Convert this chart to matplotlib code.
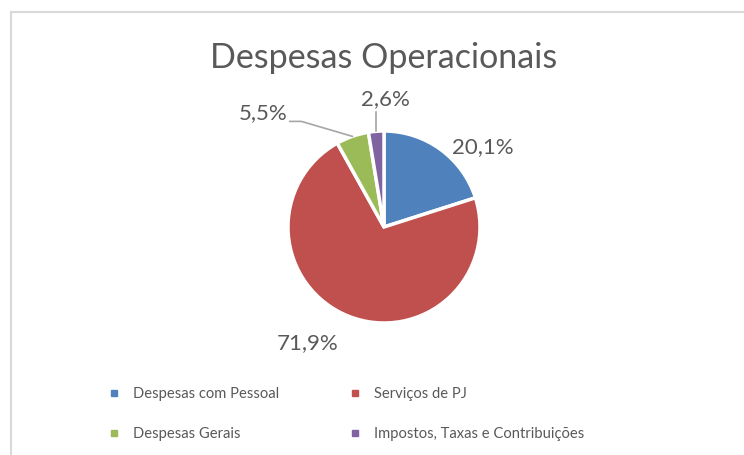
import matplotlib
matplotlib.use("Agg")
import matplotlib.pyplot as plt
from matplotlib.lines import Line2D
import numpy as np

# data
categories = ["Despesas com Pessoal", "Serviços de PJ", "Despesas Gerais", "Impostos, Taxas e Contribuições"]
values = [20.1, 71.9, 5.5, 2.6]
colors = ["#4F81BD", "#C0504D", "#9BBB59", "#8064A2"]

plt.rcParams['font.family'] = ['Lato', 'DejaVu Sans']
text_color = "#595959"

W, H = 744, 455
fig = plt.figure(figsize=(W / 100, H / 100), dpi=100)

# chart area border (left and top only visible)
fig.add_artist(Line2D([11 / W, 11 / W], [0, 1 - 12 / H], color="#D9D9D9", lw=1.5))
fig.add_artist(Line2D([11 / W, 1], [1 - 12 / H, 1 - 12 / H], color="#D9D9D9", lw=1.5))

fig.text(384 / W, 1 - 58 / H, "Despesas Operacionais", ha="center", va="center",
         fontsize=24.5, color=text_color)

# pie axes: centre (384, 227) px, radius 96 px
cx, cy, r = 384, 227, 96
ax = fig.add_axes([(cx - r) / W, (H - cy - r) / H, 2 * r / W, 2 * r / H])
wedges, _ = ax.pie(values, colors=colors, startangle=90, counterclock=False,
                   radius=1, wedgeprops=dict(edgecolor="white", linewidth=2.5))
ax.set_xlim(-1, 1)
ax.set_ylim(-1, 1)
ax.set_aspect("equal")
ax.axis("off")

# label positions (data units, radius = 1)
label_pos = [(1.03, 0.83), (-0.80, -1.21), (-1.26, 1.19), (0.02, 1.33)]
for w, v, (lx, ly) in zip(wedges, values, label_pos):
    ax.text(lx, ly, f"{v:.1f}%".replace(".", ","), ha="center", va="center",
            fontsize=16, color=text_color)

# leader lines for the small slices
for i, pts in [(2, [(-0.98, 1.10), (-0.86, 1.10)]), (3, [(-0.08, 1.20)])]:
    w = wedges[i]
    mid = np.deg2rad((w.theta1 + w.theta2) / 2)
    ex, ey = np.cos(mid), np.sin(mid)
    if i == 3:
        xs, ys = [ex, ex], [pts[0][1], ey]
    else:
        xs = [p[0] for p in pts] + [ex]
        ys = [p[1] for p in pts] + [ey]
    ax.plot(xs, ys, color="#A6A6A6", lw=1.2, clip_on=False)

# legend filled row by row, like the original
order = [0, 2, 1, 3]
handles = [Line2D([], [], marker="s", linestyle="none", markersize=5,
                  markerfacecolor=colors[k], markeredgecolor=colors[k]) for k in order]
fig.legend(handles, [categories[k] for k in order], ncol=2, loc="upper left",
           bbox_to_anchor=(95 / W, 1 - 374 / H), frameon=False,
           fontsize=10.6, labelcolor=text_color, handlelength=0.8,
           handletextpad=0.9, columnspacing=4.75, labelspacing=1.75)

fig.savefig("out.png", dpi=100)
